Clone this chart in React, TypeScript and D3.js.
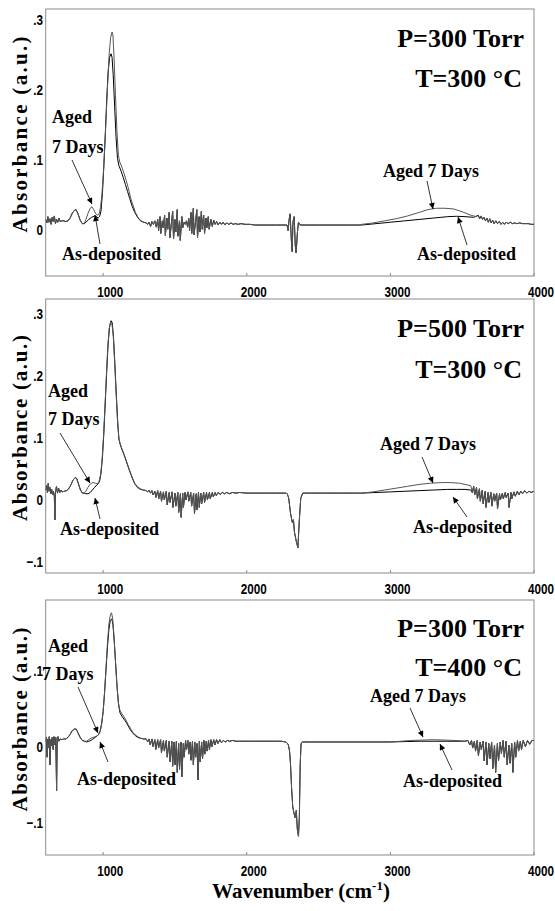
import React from "react";
import * as d3 from "d3";

type P = [number, number];

// ---------- Panel 1 : P=300 Torr, T=300 °C ----------
const p1Start: P[] = [[600,0.008],[608,0.003],[615,0.012],[622,0.004],[630,0.009],[638,0.001],[645,0.011],[652,0.005],[660,0.013],[668,0.002],[676,0.008],[684,0.004],[692,0.01],[700,0.005],[712,0.006],[725,0.006],[740,0.005],[755,0.006],[770,0.01],[785,0.017],[800,0.021],[812,0.022],[825,0.016],[840,0.007],[855,0.002],[868,0.002]];
const p1AsDepPeak: P[] = [[880,0.004],[900,0.008],[920,0.011],[940,0.013],[955,0.012],[965,0.01],[975,0.012],[985,0.02],[995,0.045],[1005,0.085],[1015,0.13],[1025,0.18],[1035,0.22],[1045,0.24],[1055,0.245],[1062,0.24],[1070,0.215],[1080,0.17],[1090,0.125],[1100,0.095],[1110,0.085],[1125,0.077],[1140,0.068],[1155,0.058],[1170,0.048],[1185,0.038],[1200,0.028],[1220,0.018],[1240,0.011],[1260,0.006],[1280,0.004],[1300,0.003]];
const p1AgedPeak: P[] = [[880,0.008],[895,0.017],[910,0.024],[922,0.026],[935,0.022],[948,0.016],[960,0.014],[972,0.016],[982,0.025],[992,0.045],[1002,0.075],[1012,0.115],[1022,0.16],[1032,0.205],[1042,0.245],[1052,0.268],[1062,0.276],[1068,0.272],[1076,0.24],[1086,0.185],[1096,0.135],[1106,0.1],[1116,0.09],[1130,0.083],[1145,0.074],[1160,0.064],[1175,0.053],[1190,0.04],[1205,0.03],[1225,0.018],[1245,0.01],[1265,0.006],[1285,0.004],[1300,0.003]];
const p1Noise: P[] = [[1310,0.001],[1320,0.004],[1330,-0.002],[1340,0.005],[1350,0.001],[1360,0.006],[1370,-0.003],[1380,0.008],[1386,-0.008],[1396,0.012],[1401,-0.012],[1412,0.006],[1418,-0.004],[1428,0.014],[1433,-0.015],[1444,0.01],[1450,-0.006],[1460,0.018],[1465,-0.018],[1476,0.004],[1484,0.02],[1490,-0.02],[1500,0.008],[1506,-0.01],[1516,0.022],[1521,-0.016],[1532,0.006],[1537,-0.022],[1548,0.012],[1554,-0.004],[1564,0.004],[1572,0.001],[1580,0.006],[1588,-0.003],[1596,0.01],[1602,-0.008],[1612,0.018],[1617,-0.012],[1628,0.024],[1633,-0.014],[1644,0.006],[1652,0.022],[1657,-0.018],[1668,0.012],[1674,-0.01],[1684,0.02],[1690,-0.006],[1700,0.014],[1706,-0.012],[1716,0.01],[1722,-0.004],[1732,0.012],[1738,-0.006],[1750,0.008],[1760,-0.002],[1770,0.007],[1780,0.001],[1790,0.005],[1800,0.0],[1812,0.004],[1824,0.001],[1836,0.004],[1848,0.0],[1860,0.003],[1875,0.001],[1890,0.003],[1905,0.001],[1920,0.002],[1940,0.001],[1960,0.002],[1990,0.001],[2020,0.001],[2060,0.0],[2100,0.0],[2150,0.0],[2200,0.0],[2270,0.0]];
const p1Co2: P[] = [[2280,0.0],[2288,-0.008],[2295,0.008],[2302,0.016],[2310,-0.02],[2316,-0.038],[2322,0.005],[2330,0.012],[2338,-0.03],[2344,-0.04],[2352,-0.012],[2360,0.004],[2372,0.0],[2400,0.0],[2500,0.0],[2600,0.0],[2700,0.0],[2780,0.0]];
const p1AsDepOH: P[] = [[2800,0.0],[2900,0.002],[3000,0.004],[3100,0.006],[3200,0.008],[3300,0.01],[3400,0.012],[3460,0.0125],[3520,0.012],[3580,0.011]];
const p1AgedOH: P[] = [[2800,0.001],[2880,0.003],[2960,0.006],[3040,0.009],[3120,0.013],[3200,0.018],[3260,0.022],[3320,0.024],[3380,0.024],[3440,0.023],[3500,0.019],[3560,0.014],[3600,0.012]];
const p1Tail: P[] = [[3612,0.014],[3622,0.009],[3632,0.013],[3642,0.008],[3652,0.011],[3662,0.006],[3672,0.01],[3682,0.004],[3692,0.009],[3702,0.003],[3712,0.007],[3722,0.002],[3734,0.006],[3746,0.002],[3758,0.005],[3770,0.001],[3782,0.004],[3794,0.001],[3806,0.004],[3820,0.002],[3835,0.004],[3850,0.002],[3865,0.003],[3880,0.002],[3900,0.003],[3920,0.002],[3940,0.002],[3960,0.002],[3980,0.001],[4000,0.001]];

// ---------- Panel 2 : P=500 Torr, T=300 °C ----------
const p2Start: P[] = [[600,0.008],[606,0.016],[612,0.004],[618,0.019],[624,0.006],[630,0.012],[636,0.002],[642,0.009],[648,0.0],[654,0.006],[660,-0.002],[664,-0.04],[668,0.004],[675,0.014],[682,0.003],[690,0.011],[698,0.004],[706,0.008],[715,0.005],[730,0.006],[745,0.007],[760,0.01],[775,0.016],[790,0.024],[805,0.028],[815,0.027],[828,0.018],[842,0.008],[856,0.003],[868,0.003]];
const p2AsDepPeak: P[] = [[880,0.002],[895,0.002],[910,0.004],[925,0.008],[940,0.012],[955,0.016],[965,0.018],[975,0.022],[985,0.035],[995,0.06],[1005,0.1],[1015,0.15],[1025,0.2],[1035,0.245],[1045,0.272],[1055,0.281],[1063,0.278],[1072,0.255],[1082,0.21],[1092,0.16],[1102,0.115],[1110,0.09],[1118,0.082],[1130,0.074],[1145,0.065],[1160,0.055],[1175,0.045],[1190,0.035],[1205,0.026],[1220,0.018],[1240,0.012],[1260,0.009],[1280,0.008],[1300,0.007]];
const p2AgedPeak: P[] = [[880,0.006],[893,0.012],[905,0.016],[918,0.019],[930,0.02],[945,0.019],[958,0.018],[970,0.021],[982,0.032],[992,0.055],[1002,0.092],[1012,0.14],[1022,0.19],[1032,0.238],[1042,0.268],[1052,0.279],[1060,0.278],[1070,0.258],[1080,0.214],[1090,0.165],[1100,0.12],[1109,0.092],[1118,0.083],[1130,0.075],[1145,0.066],[1160,0.056],[1175,0.046],[1190,0.036],[1205,0.027],[1220,0.019],[1240,0.013],[1260,0.01],[1280,0.008],[1300,0.007]];
const p2Noise: P[] = [[1310,0.005],[1320,0.008],[1330,0.003],[1340,0.007],[1348,0.0],[1360,0.006],[1367,-0.004],[1380,0.007],[1387,-0.006],[1400,0.006],[1406,-0.01],[1420,0.005],[1426,-0.008],[1440,0.006],[1446,-0.016],[1460,0.004],[1466,-0.012],[1480,0.005],[1486,-0.02],[1500,0.003],[1506,-0.018],[1520,0.004],[1526,-0.028],[1538,0.002],[1543,-0.036],[1554,0.003],[1559,-0.02],[1570,0.004],[1576,-0.008],[1590,0.005],[1596,-0.01],[1610,0.004],[1616,-0.018],[1630,0.003],[1636,-0.03],[1648,0.002],[1653,-0.024],[1664,0.004],[1669,-0.02],[1680,0.003],[1686,-0.014],[1700,0.004],[1706,-0.012],[1720,0.004],[1726,-0.008],[1740,0.004],[1746,-0.006],[1760,0.004],[1767,-0.003],[1780,0.004],[1788,-0.001],[1800,0.004],[1815,0.001],[1830,0.004],[1845,0.002],[1860,0.004],[1880,0.002],[1900,0.004],[1925,0.003],[1950,0.004],[2000,0.003],[2050,0.003],[2100,0.003],[2150,0.003],[2200,0.003],[2270,0.003]];
const p2Co2: P[] = [[2282,0.002],[2292,-0.005],[2305,-0.03],[2318,-0.045],[2325,-0.04],[2332,-0.06],[2345,-0.075],[2356,-0.085],[2366,-0.04],[2376,-0.005],[2390,0.003],[2450,0.003],[2550,0.003],[2650,0.003],[2750,0.003]];
const p2AsDepOH: P[] = [[2800,0.003],[2900,0.004],[3000,0.005],[3100,0.006],[3200,0.007],[3300,0.008],[3400,0.009],[3460,0.009],[3520,0.009],[3560,0.008]];
const p2AgedOH: P[] = [[2800,0.003],[2880,0.005],[2960,0.008],[3040,0.011],[3120,0.014],[3200,0.017],[3280,0.019],[3360,0.02],[3420,0.02],[3480,0.019],[3540,0.016],[3560,0.015]];
const p2Tail: P[] = [[3570,0.004],[3580,0.014],[3587,0.0],[3600,0.012],[3606,-0.006],[3620,0.01],[3626,-0.01],[3640,0.008],[3646,-0.014],[3660,0.006],[3666,-0.02],[3680,0.004],[3686,-0.012],[3700,0.004],[3706,-0.018],[3720,0.002],[3726,-0.01],[3740,0.003],[3746,-0.022],[3760,0.002],[3766,-0.008],[3780,0.003],[3786,-0.006],[3800,0.004],[3806,-0.004],[3820,0.003],[3826,-0.02],[3840,0.004],[3846,-0.006],[3860,0.005],[3870,-0.002],[3884,0.006],[3894,0.0],[3908,0.006],[3920,0.002],[3935,0.007],[3950,0.003],[3965,0.006],[3980,0.004],[4000,0.006]];

// ---------- Panel 3 : P=300 Torr, T=400 °C ----------
const p3Start: P[] = [[600,0.0],[605,0.006],[610,-0.02],[615,0.004],[620,-0.008],[625,0.007],[630,-0.03],[635,0.003],[640,-0.005],[645,0.006],[652,-0.01],[658,0.007],[664,-0.004],[670,0.006],[676,-0.064],[680,0.004],[686,0.007],[692,0.001],[700,0.004],[712,0.003],[725,0.004],[740,0.004],[755,0.006],[770,0.01],[785,0.015],[800,0.017],[812,0.017],[825,0.012],[840,0.006],[855,0.002],[870,0.001]];
const p3AsDepPeak: P[] = [[885,0.0],[900,0.001],[915,0.002],[930,0.004],[945,0.006],[958,0.008],[970,0.01],[980,0.015],[990,0.025],[1000,0.04],[1010,0.065],[1020,0.095],[1030,0.125],[1040,0.148],[1050,0.16],[1060,0.162],[1068,0.155],[1078,0.13],[1088,0.1],[1098,0.07],[1108,0.048],[1118,0.038],[1130,0.034],[1145,0.03],[1160,0.026],[1175,0.021],[1190,0.016],[1205,0.012],[1220,0.009],[1240,0.006],[1260,0.005],[1280,0.004],[1300,0.004]];
const p3AgedPeak: P[] = [[885,0.001],[900,0.003],[915,0.005],[930,0.006],[945,0.007],[958,0.008],[970,0.01],[980,0.014],[990,0.024],[1000,0.04],[1010,0.066],[1020,0.098],[1030,0.13],[1040,0.155],[1050,0.167],[1058,0.17],[1066,0.163],[1076,0.138],[1086,0.105],[1096,0.074],[1106,0.052],[1116,0.042],[1128,0.038],[1142,0.034],[1158,0.029],[1174,0.023],[1190,0.018],[1205,0.013],[1220,0.01],[1240,0.007],[1260,0.005],[1280,0.004],[1300,0.004]];
const p3Noise: P[] = [[1310,0.0],[1320,0.004],[1328,-0.004],[1340,0.004],[1347,-0.006],[1360,0.003],[1366,-0.01],[1380,0.003],[1386,-0.008],[1400,0.003],[1406,-0.014],[1420,0.002],[1426,-0.012],[1440,0.002],[1446,-0.02],[1460,0.001],[1466,-0.026],[1478,0.001],[1484,-0.032],[1494,0.0],[1500,-0.03],[1510,0.001],[1516,-0.04],[1526,-0.002],[1532,-0.036],[1542,0.0],[1548,-0.046],[1558,-0.002],[1564,-0.02],[1574,0.002],[1580,-0.01],[1590,0.002],[1596,-0.016],[1606,0.0],[1612,-0.024],[1622,0.001],[1628,-0.03],[1638,0.0],[1644,-0.02],[1654,-0.002],[1660,-0.05],[1670,0.001],[1676,-0.026],[1686,0.0],[1692,-0.022],[1702,0.002],[1708,-0.016],[1718,0.001],[1724,-0.012],[1734,0.002],[1740,-0.01],[1750,0.003],[1758,-0.006],[1770,0.003],[1778,-0.004],[1790,0.003],[1800,-0.002],[1812,0.003],[1824,-0.001],[1836,0.002],[1850,0.0],[1865,0.002],[1880,0.001],[1900,0.002],[1925,0.001],[1950,0.001],[2000,0.001],[2060,0.001],[2120,0.001],[2180,0.001],[2240,0.001],[2270,0.0]];
const p3Co2: P[] = [[2280,-0.001],[2290,-0.004],[2298,-0.012],[2305,-0.03],[2312,-0.06],[2320,-0.085],[2330,-0.095],[2338,-0.1],[2345,-0.09],[2352,-0.115],[2360,-0.124],[2366,-0.1],[2372,-0.03],[2378,-0.002],[2390,0.0],[2450,0.0],[2550,0.0],[2650,0.0],[2750,0.0],[2850,0.0],[2950,0.0]];
const p3AsDepOH: P[] = [[3000,0.0],[3200,0.001],[3400,0.001],[3520,0.001]];
const p3AgedOH: P[] = [[3000,0.0],[3150,0.002],[3300,0.003],[3450,0.002],[3520,0.001]];
const p3Tail: P[] = [[3540,0.002],[3553,-0.004],[3565,0.002],[3573,-0.008],[3585,0.001],[3593,-0.012],[3605,0.002],[3613,-0.018],[3625,0.0],[3633,-0.01],[3645,0.001],[3653,-0.025],[3665,0.0],[3673,-0.03],[3685,-0.002],[3693,-0.022],[3705,0.0],[3713,-0.035],[3725,-0.004],[3733,-0.04],[3745,-0.002],[3753,-0.025],[3765,0.0],[3773,-0.015],[3785,0.002],[3793,-0.02],[3805,0.001],[3813,-0.03],[3825,-0.004],[3833,-0.028],[3845,-0.002],[3853,-0.04],[3865,0.0],[3873,-0.02],[3885,0.002],[3893,-0.012],[3905,0.001],[3913,-0.01],[3925,0.002],[3940,-0.006],[3955,0.002],[3970,-0.003],[3985,0.002],[4000,0.002]];

const xTicks = [1000, 2000, 3000, 4000];
const p1YTicks = [0, 0.1, 0.2, 0.3];
const p2YTicks = [-0.1, 0, 0.1, 0.2, 0.3];
const p3YTicks = [-0.1, 0, 0.1];

const seriesNames = ["As-deposited", "Aged 7 Days"];
const p1Titles = ["P=300 Torr", "T=300 °C"];
const p2Titles = ["P=500 Torr", "T=300 °C"];
const p3Titles = ["P=300 Torr", "T=400 °C"];

// ---------- layout ----------
const X0 = 45.7, X1 = 534;
const x = d3.scaleLinear().domain([600, 4000]).range([X0, X1]);

type Arrow = [number, number, number, number];
interface Panel {
  top: number; bottom: number; yDomain: [number, number]; yTicks: number[];
  asDep: P[]; aged: P[]; titles: string[]; titleY: [number, number];
  leftAged: [number, number, number]; leftAgedArrow: Arrow;
  leftAs: [number, number]; leftAsArrow: Arrow;
  rightAged: [number, number]; rightAgedArrow: Arrow;
  rightAs: [number, number]; rightAsArrow: Arrow;
  yTitleLen: number;
}

const panels: Panel[] = [
  {
    top: 9, bottom: 276, yDomain: [-0.0729, 0.309], yTicks: p1YTicks,
    asDep: [...p1Start, ...p1AsDepPeak, ...p1Noise, ...p1Co2, ...p1AsDepOH, ...p1Tail],
    aged: [...p1Start, ...p1AgedPeak, ...p1Noise, ...p1Co2, ...p1AgedOH, ...p1Tail],
    titles: p1Titles, titleY: [47, 87],
    leftAged: [52, 123, 153], leftAgedArrow: [72, 160, 92, 204],
    leftAs: [62, 260], leftAsArrow: [100, 244, 95, 215],
    rightAged: [383, 177], rightAgedArrow: [427, 181, 433, 209],
    rightAs: [417, 260], rightAsArrow: [467, 245, 458, 217],
    yTitleLen: 196,
  },
  {
    top: 299, bottom: 573, yDomain: [-0.1258, 0.316], yTicks: p2YTicks,
    asDep: [...p2Start, ...p2AsDepPeak, ...p2Noise, ...p2Co2, ...p2AsDepOH, ...p2Tail],
    aged: [...p2Start, ...p2AgedPeak, ...p2Noise, ...p2Co2, ...p2AgedOH, ...p2Tail],
    titles: p2Titles, titleY: [337, 378],
    leftAged: [48, 397, 425], leftAgedArrow: [60, 433, 90, 483],
    leftAs: [60, 535], leftAsArrow: [100, 519, 95, 498],
    rightAged: [380, 450], rightAgedArrow: [422, 457, 433, 483],
    rightAs: [413, 533], rightAsArrow: [467, 517, 453, 497],
    yTitleLen: 186,
  },
  {
    top: 600, bottom: 855, yDomain: [-0.1487, 0.1868], yTicks: p3YTicks,
    asDep: [...p3Start, ...p3AsDepPeak, ...p3Noise, ...p3Co2, ...p3AsDepOH, ...p3Tail],
    aged: [...p3Start, ...p3AgedPeak, ...p3Noise, ...p3Co2, ...p3AgedOH, ...p3Tail],
    titles: p3Titles, titleY: [637, 676],
    leftAged: [48, 652, 680], leftAgedArrow: [78, 687, 98, 733],
    leftAs: [77, 785], leftAsArrow: [108, 762, 100, 742],
    rightAged: [370, 702], rightAgedArrow: [410, 708, 423, 737],
    rightAs: [403, 787], rightAsArrow: [452, 770, 440, 744],
    yTitleLen: 184,
  },
];

const SERIF = "Liberation Serif, Times New Roman, Times, DejaVu Serif, serif";
const SANS = "Liberation Sans, Arial, Helvetica, sans-serif";

function fmt(v: number): string {
  if (Math.abs(v) < 1e-9) return "0";
  const s = d3.format(".1f")(v);
  return s.replace("0.", ".");
}

function PanelView({ p, i }: { p: Panel; i: number }) {
  const y = d3.scaleLinear().domain(p.yDomain).range([p.bottom, p.top]);
  const line = d3.line<P>().x((d) => x(d[0])).y((d) => y(d[1]));
  const clipId = `clip${i}`;
  const annStyle = { fontFamily: SERIF, fontWeight: 700, fontSize: 18 } as const;
  const arrow = (a: Arrow) => (
    <line x1={a[0]} y1={a[1]} x2={a[2]} y2={a[3]} stroke="#000" strokeWidth={0.8} markerEnd="url(#ah)" />
  );
  const midY = (p.top + p.bottom) / 2 - 8;
  return (
    <g>
      <defs>
        <clipPath id={clipId}>
          <rect x={X0} y={p.top} width={X1 - X0} height={p.bottom - p.top} />
        </clipPath>
      </defs>
      <rect x={X0} y={p.top} width={X1 - X0} height={p.bottom - p.top} fill="none" stroke="#8a8a8a" strokeWidth={1} />
      {xTicks.map((t) => (
        <g key={t}>
          <line x1={x(t)} x2={x(t)} y1={p.bottom} y2={p.bottom - 3} stroke="#8a8a8a" />
          <text
            transform={`translate(${x(t) + 7},${p.bottom + 21}) scale(0.78,1)`}
            textAnchor="middle" style={{ fontFamily: SANS, fontWeight: 700, fontSize: 15 }}
          >
            {t}
          </text>
        </g>
      ))}
      {p.yTicks.map((t) => (
        <text key={t}
          transform={`translate(43,${y(t) + 10}) scale(0.78,1)`}
          textAnchor="end" style={{ fontFamily: SANS, fontWeight: 700, fontSize: 15 }}
        >
          {fmt(t)}
        </text>
      ))}
      <text
        transform={`translate(27,${midY}) rotate(-90)`}
        textAnchor="middle" style={{ fontFamily: SERIF, fontWeight: 700, fontSize: 21 }}
        textLength={p.yTitleLen} lengthAdjust="spacing"
      >
        Absorbance (a.u.)
      </text>
      <g clipPath={`url(#${clipId})`} fill="none" strokeLinejoin="round">
        <path d={line(p.asDep) || ""} stroke="#000" strokeWidth={1} />
        <path d={line(p.aged) || ""} stroke="#555" strokeWidth={1} />
      </g>
      <text x={524} y={p.titleY[0]} textAnchor="end" style={{ fontFamily: SERIF, fontWeight: 700, fontSize: 26 }}>{p.titles[0]}</text>
      <text x={522} y={p.titleY[1]} textAnchor="end" style={{ fontFamily: SERIF, fontWeight: 700, fontSize: 26 }}>{p.titles[1]}</text>
      <text x={p.leftAged[0]} y={p.leftAged[1]} style={annStyle}>Aged</text>
      <text x={p.leftAged[0] + (i === 2 ? -6 : 0)} y={p.leftAged[2]} style={annStyle}>7 Days</text>
      {arrow(p.leftAgedArrow)}
      <text x={p.leftAs[0]} y={p.leftAs[1]} style={annStyle}>{seriesNames[0]}</text>
      {arrow(p.leftAsArrow)}
      <text x={p.rightAged[0]} y={p.rightAged[1]} style={annStyle}>{seriesNames[1]}</text>
      {arrow(p.rightAgedArrow)}
      <text x={p.rightAs[0]} y={p.rightAs[1]} style={annStyle}>{seriesNames[0]}</text>
      {arrow(p.rightAsArrow)}
    </g>
  );
}

export default function App() {
  return (
    <svg width={555} height={911} viewBox="0 0 555 911"
      style={{ position: "absolute", left: 0, top: 0, background: "#fff", display: "block" }}>
      <defs>
        <marker id="ah" viewBox="0 0 10 10" refX={10} refY={5} markerWidth={7} markerHeight={6}
          markerUnits="userSpaceOnUse" orient="auto">
          <path d="M0,0 L10,5 L0,10 z" fill="#000" />
        </marker>
      </defs>
      <rect x={0} y={0} width={555} height={911} fill="#fff" />
      {panels.map((p, i) => <PanelView key={i} p={p} i={i} />)}
      <text x={301} y={898} textAnchor="middle" style={{ fontFamily: SERIF, fontWeight: 700, fontSize: 21 }}>
        Wavenumber (cm
        <tspan style={{ fontSize: 13 }} dy={-8}>-1</tspan>
        <tspan dy={8}>)</tspan>
      </text>
    </svg>
  );
}
